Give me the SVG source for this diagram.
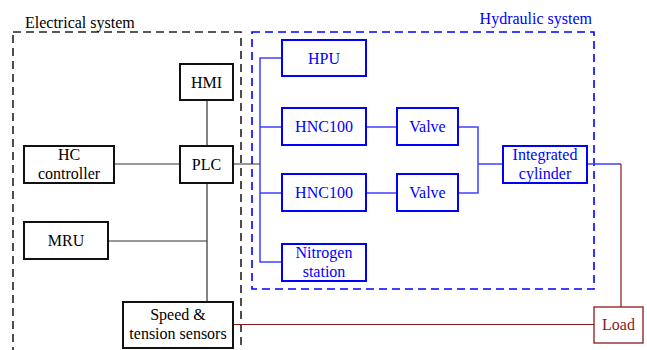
<svg xmlns="http://www.w3.org/2000/svg" width="647" height="350" viewBox="0 0 647 350" font-family="Liberation Serif, serif">
<style>
text{font-size:16px;text-anchor:middle}
.eb{fill:#fff;stroke:#111;stroke-width:2}
.hb{fill:#fff;stroke:#0000ff;stroke-width:2}
.lb{fill:#fff;stroke:#8b1a1a;stroke-width:1.3}
.et{fill:#000}
.ht{fill:#0000ff}
.lt{fill:#8b1a1a}
.ec{fill:none;stroke:#333;stroke-width:1.2}
.hc{fill:none;stroke:#3f3fff;stroke-width:1.5}
.rc{fill:none;stroke:#8b1a1a;stroke-width:1.2}
.dash{fill:none;stroke-width:1.6;stroke-dasharray:8,5}
</style>
<g id="electrical-system">
<rect class="dash" x="13" y="32" width="228" height="330" stroke="#222"/>
<text x="25" y="28" text-anchor="start" style="text-anchor:start" class="et">Electrical system</text>
</g>
<g id="hydraulic-system">
<rect class="dash" x="252" y="32" width="342" height="257" stroke="#0000ff"/>
<text x="592" y="24" text-anchor="end" style="text-anchor:end" class="ht">Hydraulic system</text>
</g>
<g id="connectors">
<path class="ec" d="M207 100V146M114 164H180M207 183V302M108 241H207M233 164H260"/>
<path class="hc" d="M282 58H260V262H282M260 127H282M260 193H282M366 127H397M366 193H397M458 127H478V193H458M478 164H503M587 164H621"/>
<path class="rc" d="M621 164V307M233 324.5H594"/>
</g>
<g id="hmi"><rect class="eb" x="180" y="64" width="53" height="36"/><text class="et" x="206.5" y="87.5">HMI</text></g>
<g id="plc"><rect class="eb" x="180" y="146" width="53" height="37"/><text class="et" x="206.5" y="169.5">PLC</text></g>
<g id="hc-controller"><rect class="eb" x="24" y="146" width="90" height="37"/><text class="et" x="69" y="160">HC</text><text class="et" x="69" y="179">controller</text></g>
<g id="mru"><rect class="eb" x="24" y="222" width="84" height="37"/><text class="et" x="66" y="246">MRU</text></g>
<g id="speed-tension-sensors"><rect class="eb" x="123" y="302" width="110" height="46"/><text class="et" x="178" y="320">Speed &amp;</text><text class="et" x="178" y="339">tension sensors</text></g>
<g id="hpu"><rect class="hb" x="282" y="40" width="84" height="36"/><text class="ht" x="324" y="63.5">HPU</text></g>
<g id="hnc100-1"><rect class="hb" x="282" y="108" width="84" height="37"/><text class="ht" x="324" y="132">HNC100</text></g>
<g id="hnc100-2"><rect class="hb" x="282" y="174" width="84" height="37"/><text class="ht" x="324" y="198">HNC100</text></g>
<g id="nitrogen-station"><rect class="hb" x="282" y="244" width="84" height="37"/><text class="ht" x="324" y="258">Nitrogen</text><text class="ht" x="324" y="277">station</text></g>
<g id="valve-1"><rect class="hb" x="397" y="108" width="61" height="37"/><text class="ht" x="427.5" y="132">Valve</text></g>
<g id="valve-2"><rect class="hb" x="397" y="174" width="61" height="37"/><text class="ht" x="427.5" y="198">Valve</text></g>
<g id="integrated-cylinder"><rect class="hb" x="503" y="146" width="84" height="37"/><text class="ht" x="545" y="160">Integrated</text><text class="ht" x="545" y="179">cylinder</text></g>
<g id="load"><rect class="lb" x="594" y="307" width="49" height="36"/><text class="lt" x="618.5" y="330">Load</text></g>
</svg>
